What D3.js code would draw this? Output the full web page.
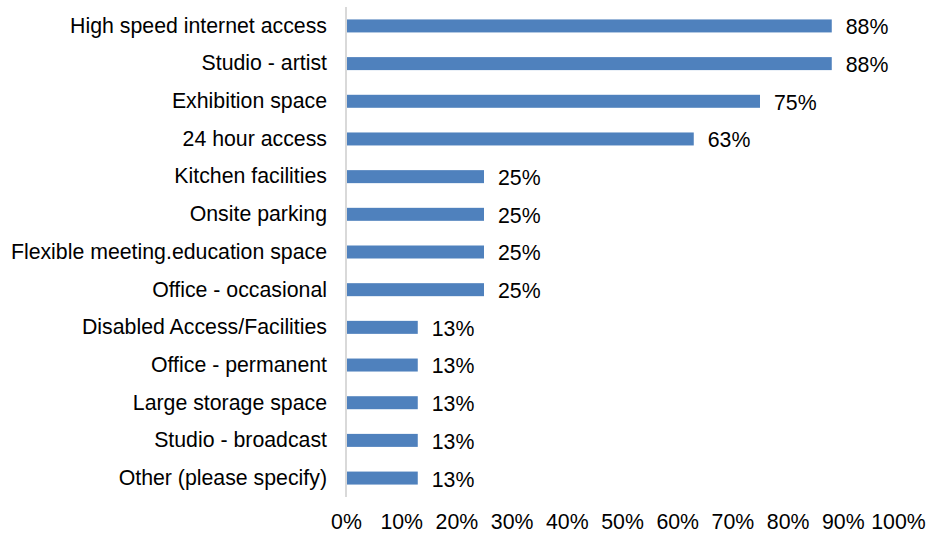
<!DOCTYPE html>
<html>
<head>
<meta charset="utf-8">
<script src="https://cdn.jsdelivr.net/npm/d3@7"></script>
<style>
  html, body { margin: 0; padding: 0; background: #fff; }
  text { font-family: "Liberation Sans", Arial, sans-serif; fill: #000; }
</style>
</head>
<body>
<svg id="chart" width="926" height="533"></svg>
<script>
// Facility needs, share of respondents (%)
const categories = [
  "High speed internet access",
  "Studio - artist",
  "Exhibition space",
  "24 hour access",
  "Kitchen facilities",
  "Onsite parking",
  "Flexible meeting.education space",
  "Office - occasional",
  "Disabled Access/Facilities",
  "Office - permanent",
  "Large storage space",
  "Studio - broadcast",
  "Other (please specify)"
];
const values = [88, 88, 75, 63, 25, 25, 25, 25, 13, 13, 13, 13, 13];
const tickValues = [0, 10, 20, 30, 40, 50, 60, 70, 80, 90, 100];

const fontSize = 21.3;
const svg = d3.select("#chart");
const margin = { left: 346, right: 28, top: 7, bottom: 36 };
const width = 926, height = 533;

const x = d3.scaleLinear().domain([0, 100]).range([margin.left, width - margin.right]);
const y = d3.scaleBand().domain(categories)
  .range([margin.top, height - margin.bottom])
  .paddingInner(0.655).paddingOuter(0.33);

// Bars
svg.append("g").selectAll("rect")
  .data(categories)
  .join("rect")
  .attr("x", x(0))
  .attr("y", (d) => y(d))
  .attr("width", (d, i) => x(values[i]) - x(0))
  .attr("height", y.bandwidth())
  .attr("fill", "#4f81bd");

// Value labels
svg.append("g").selectAll("text")
  .data(categories)
  .join("text")
  .attr("x", (d, i) => x(values[i]) + 14)
  .attr("y", (d) => y(d) + y.bandwidth() / 2 + 1)
  .attr("dy", "0.35em")
  .attr("font-size", fontSize)
  .text((d, i) => values[i] + "%");

// Category axis (left)
const yAxis = svg.append("g")
  .attr("transform", `translate(${x(0)},0)`)
  .call(d3.axisLeft(y).tickSize(0).tickPadding(19));
yAxis.select(".domain").attr("stroke", "#d9d9d9").attr("stroke-width", 2)
  .attr("d", `M0,${margin.top}V${height - margin.bottom}`);
yAxis.selectAll("text").attr("font-size", fontSize);

// Value axis (bottom, labels only)
const xAxis = svg.append("g")
  .attr("transform", `translate(0,${height - margin.bottom})`)
  .call(d3.axisBottom(x).tickValues(tickValues).tickSize(0).tickPadding(17)
    .tickFormat((d) => d + "%"));
xAxis.select(".domain").remove();
xAxis.selectAll("text").attr("font-size", fontSize);
svg.selectAll(".tick text").attr("fill", "#000").attr("font-family", "Liberation Sans, Arial, sans-serif");
</script>
</body>
</html>
